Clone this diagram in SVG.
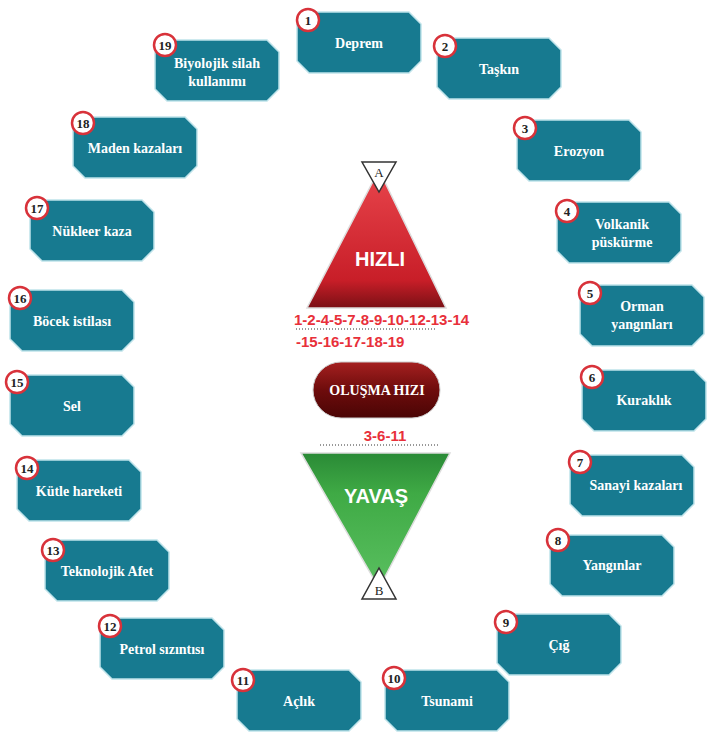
<svg xmlns="http://www.w3.org/2000/svg" width="723" height="742" viewBox="0 0 723 742">
<defs>
<linearGradient id="rg" x1="0" y1="0" x2="0" y2="1"><stop offset="0" stop-color="#e8454c"/><stop offset="0.8" stop-color="#c81e28"/><stop offset="1" stop-color="#7a1015"/></linearGradient>
<linearGradient id="gg" x1="0" y1="0" x2="0" y2="1"><stop offset="0" stop-color="#2a8a36"/><stop offset="0.3" stop-color="#3faa45"/><stop offset="1" stop-color="#5ac060"/></linearGradient>
<linearGradient id="pg" x1="0" y1="0" x2="0" y2="1"><stop offset="0" stop-color="#a52020"/><stop offset="0.5" stop-color="#6e0c0c"/><stop offset="1" stop-color="#4a0505"/></linearGradient>
<polygon id="oct" points="12,0 112,0 124,12 124,49 112,61 12,61 0,49 0,12"/>
</defs>
<style>
.n{fill:#177a90;stroke:#bfe3ea;stroke-width:1.5}
.t{font-family:"Liberation Serif",serif;font-weight:bold;font-size:14px;fill:#fff;text-anchor:middle}
.c{fill:#fff;stroke:#d8323a;stroke-width:2.5}
.ct{font-family:"Liberation Serif",serif;font-weight:bold;font-size:13px;fill:#222;text-anchor:middle}
.r{font-family:"Liberation Sans",sans-serif;font-weight:bold;font-size:15px;fill:#e8303a}
.d{stroke:#333;stroke-width:1;stroke-dasharray:1,2}
</style>
<g id="n1"><use href="#oct" x="297" y="12" class="n"/><text class="t" x="359" y="48">Deprem</text><circle class="c" cx="308" cy="20" r="11"/><text class="ct" x="308" y="25">1</text></g>
<g id="n2"><use href="#oct" x="437" y="38" class="n"/><text class="t" x="499" y="74">Taşkın</text><circle class="c" cx="445" cy="46" r="11"/><text class="ct" x="445" y="51">2</text></g>
<g id="n3"><use href="#oct" x="517" y="120" class="n"/><text class="t" x="579" y="156">Erozyon</text><circle class="c" cx="525" cy="128" r="11"/><text class="ct" x="525" y="133">3</text></g>
<g id="n4"><use href="#oct" x="557" y="202" class="n"/><text class="t" x="622" y="229">Volkanik</text><text class="t" x="622" y="247">püskürme</text><circle class="c" cx="567" cy="211" r="11"/><text class="ct" x="567" y="216">4</text></g>
<g id="n5"><use href="#oct" x="580" y="285" class="n"/><text class="t" x="642" y="311">Orman</text><text class="t" x="642" y="329">yangınları</text><circle class="c" cx="590" cy="293" r="11"/><text class="ct" x="590" y="298">5</text></g>
<g id="n6"><use href="#oct" x="582" y="370" class="n"/><text class="t" x="644" y="405">Kuraklık</text><circle class="c" cx="592" cy="377" r="11"/><text class="ct" x="592" y="382">6</text></g>
<g id="n7"><use href="#oct" x="570" y="455" class="n"/><text class="t" x="636" y="490">Sanayi kazaları</text><circle class="c" cx="580" cy="462" r="11"/><text class="ct" x="580" y="467">7</text></g>
<g id="n8"><use href="#oct" x="550" y="535" class="n"/><text class="t" x="612" y="570">Yangınlar</text><circle class="c" cx="558" cy="540" r="11"/><text class="ct" x="558" y="545">8</text></g>
<g id="n9"><use href="#oct" x="497" y="614" class="n"/><text class="t" x="559" y="650">Çığ</text><circle class="c" cx="506" cy="622" r="11"/><text class="ct" x="506" y="627">9</text></g>
<g id="n10"><use href="#oct" x="385" y="670" class="n"/><text class="t" x="447" y="706">Tsunami</text><circle class="c" cx="394" cy="678" r="11"/><text class="ct" x="394" y="683">10</text></g>
<g id="n11"><use href="#oct" x="237" y="670" class="n"/><text class="t" x="299" y="706">Açlık</text><circle class="c" cx="243" cy="680" r="11"/><text class="ct" x="243" y="685">11</text></g>
<g id="n12"><use href="#oct" x="100" y="618" class="n"/><text class="t" x="162" y="654">Petrol sızıntısı</text><circle class="c" cx="110" cy="626" r="11"/><text class="ct" x="110" y="631">12</text></g>
<g id="n13"><use href="#oct" x="45" y="540" class="n"/><text class="t" x="107" y="576">Teknolojik Afet</text><circle class="c" cx="53" cy="550" r="11"/><text class="ct" x="53" y="555">13</text></g>
<g id="n14"><use href="#oct" x="17" y="460" class="n"/><text class="t" x="79" y="496">Kütle hareketi</text><circle class="c" cx="27" cy="468" r="11"/><text class="ct" x="27" y="473">14</text></g>
<g id="n15"><use href="#oct" x="10" y="375" class="n"/><text class="t" x="72" y="411">Sel</text><circle class="c" cx="17" cy="382" r="11"/><text class="ct" x="17" y="387">15</text></g>
<g id="n16"><use href="#oct" x="10" y="290" class="n"/><text class="t" x="72" y="326">Böcek istilası</text><circle class="c" cx="20" cy="298" r="11"/><text class="ct" x="20" y="303">16</text></g>
<g id="n17"><use href="#oct" x="30" y="200" class="n"/><text class="t" x="92" y="236">Nükleer kaza</text><circle class="c" cx="37" cy="208" r="11"/><text class="ct" x="37" y="213">17</text></g>
<g id="n18"><use href="#oct" x="73" y="117" class="n"/><text class="t" x="135" y="153">Maden kazaları</text><circle class="c" cx="83" cy="123" r="11"/><text class="ct" x="83" y="128">18</text></g>
<g id="n19"><use href="#oct" x="155" y="40" class="n"/><text class="t" x="217" y="68">Biyolojik silah</text><text class="t" x="217" y="86">kullanımı</text><circle class="c" cx="165" cy="45" r="11"/><text class="ct" x="165" y="50">19</text></g>
<g id="center">
<polygon points="379,170 446,308 307,308" fill="url(#rg)" stroke="#ddd" stroke-width="1.5"/>
<polygon points="362,162 396,162 379,192" fill="#fff" stroke="#333" stroke-width="1.5"/>
<text x="379" y="177" font-family="Liberation Serif,serif" font-size="13" text-anchor="middle" fill="#222">A</text>
<text x="380" y="266" font-family="Liberation Sans,sans-serif" font-weight="bold" font-size="20" fill="#fff" text-anchor="middle">HIZLI</text>
<text class="r" x="294" y="325">1-2-4-5-7-8-9-10-12-13-14</text>
<line class="d" x1="296" y1="329" x2="437" y2="329"/>
<text class="r" x="296" y="347">-15-16-17-18-19</text>
<rect x="313" y="362" width="127" height="56" rx="28" fill="url(#pg)" stroke="#ccc"/>
<text x="377" y="395" font-family="Liberation Serif,serif" font-weight="bold" font-size="14" fill="#fff" text-anchor="middle">OLUŞMA HIZI</text>
<text class="r" x="385" y="441" text-anchor="middle">3-6-11</text>
<line class="d" x1="320" y1="445" x2="440" y2="445"/>
<polygon points="301,453 450,453 379,588" fill="url(#gg)" stroke="#ddd" stroke-width="1.5"/>
<text x="376" y="503" font-family="Liberation Sans,sans-serif" font-weight="bold" font-size="20" fill="#fff" text-anchor="middle">YAVAŞ</text>
<polygon points="362,599 396,599 379,568" fill="#fff" stroke="#333" stroke-width="1.5"/>
<text x="379" y="595" font-family="Liberation Serif,serif" font-size="13" text-anchor="middle" fill="#222">B</text>
</g>
</svg>
